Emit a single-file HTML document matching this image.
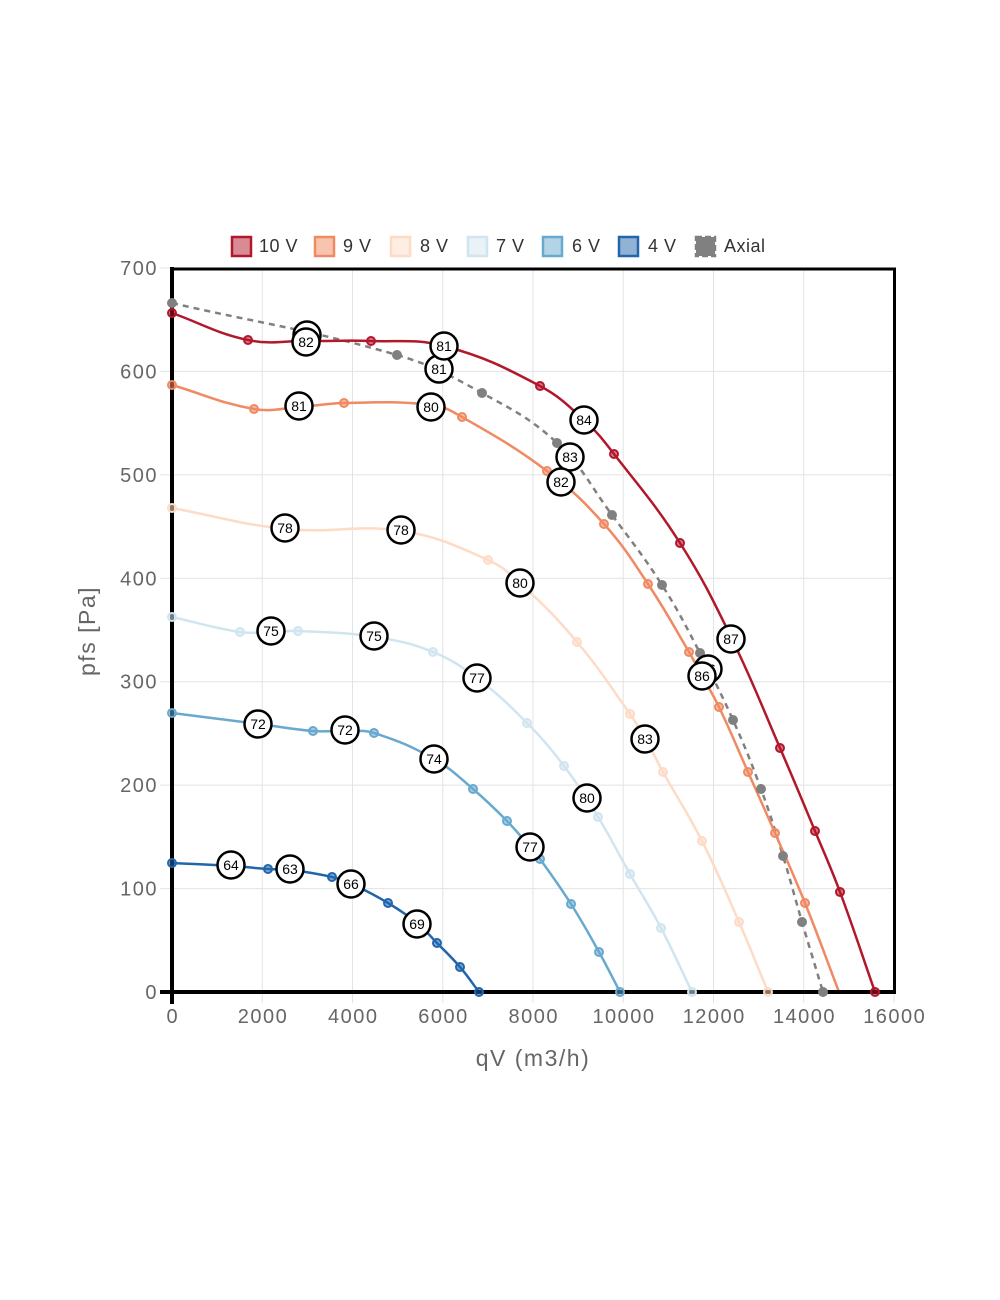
<!DOCTYPE html>
<html><head><meta charset="utf-8"><style>
html,body{margin:0;padding:0;background:#fff;}
svg{display:block;}
.tk{font-family:"Liberation Sans",sans-serif;font-size:20px;fill:#666;letter-spacing:1.5px;}
.lg{font-family:"Liberation Sans",sans-serif;font-size:18px;fill:#333;letter-spacing:0.5px;}
.lb{font-family:"Liberation Sans",sans-serif;font-size:14px;fill:#000;}
.ttl{font-family:"Liberation Sans",sans-serif;font-size:23px;fill:#666;letter-spacing:1.5px;}
</style></head><body>
<svg id="c" width="1000" height="1300" viewBox="0 0 1000 1300" xmlns="http://www.w3.org/2000/svg">
<rect width="1000" height="1300" fill="#fff"/>
<g id="grid" stroke="#e3e3e3" stroke-width="1"></g>
<g id="curves"></g>
<g id="axes" stroke="#000" fill="none">
  <line x1="172" y1="269" x2="896" y2="269" stroke-width="3"/>
  <line x1="894.5" y1="268" x2="894.5" y2="993" stroke-width="3"/>
  <line x1="160" y1="992" x2="896" y2="992" stroke-width="4"/>
  <line x1="172" y1="267" x2="172" y2="1004" stroke-width="4"/>
</g>
<g id="markers"></g>
<g id="labels"></g>
<g id="ticks"></g>
<!-- legend -->
<g>
  <rect x="232" y="237" width="19" height="19" fill="rgba(178,24,43,0.5)" stroke="#b2182b" stroke-width="2.5"/>
  <text class="lg" x="259" y="252">10 V</text>
  <rect x="315" y="237" width="19" height="19" fill="rgba(239,138,98,0.5)" stroke="#ef8a62" stroke-width="2.5"/>
  <text class="lg" x="343" y="252">9 V</text>
  <rect x="391" y="237" width="19" height="19" fill="rgba(253,219,199,0.5)" stroke="#fddbc7" stroke-width="2.5"/>
  <text class="lg" x="420" y="252">8 V</text>
  <rect x="468" y="237" width="19" height="19" fill="rgba(209,229,240,0.5)" stroke="#d1e5f0" stroke-width="2.5"/>
  <text class="lg" x="496" y="252">7 V</text>
  <rect x="543" y="237" width="19" height="19" fill="rgba(103,169,207,0.5)" stroke="#67a9cf" stroke-width="2.5"/>
  <text class="lg" x="572" y="252">6 V</text>
  <rect x="619" y="237" width="19" height="19" fill="rgba(33,102,172,0.5)" stroke="#2166ac" stroke-width="2.5"/>
  <text class="lg" x="648" y="252">4 V</text>
  <rect x="696" y="237" width="19" height="19" fill="#808080" stroke="#808080" stroke-width="2.5" stroke-dasharray="6,3"/>
  <text class="lg" x="724" y="252">Axial</text>
</g>
<text class="ttl" x="533" y="1066" text-anchor="middle">qV (m3/h)</text>
<text class="ttl" x="0" y="0" text-anchor="middle" transform="translate(95,631) rotate(-90)">pfs [Pa]</text>
</svg>
<script>
(function(){
var NS="http://www.w3.org/2000/svg";
function el(n,a,p,t){var e=document.createElementNS(NS,n);for(var k in a)e.setAttribute(k,a[k]);if(t!==undefined)e.textContent=t;p.appendChild(e);return e;}
var grid=document.getElementById('grid'),ticks=document.getElementById('ticks');
var i;
for(i=0;i<=8;i++){
  var x=172+90.25*i;
  if(i>0&&i<8) el('line',{x1:x,y1:269,x2:x,y2:992},grid);
  el('line',{x1:x,y1:992,x2:x,y2:1003,stroke:'#e3e3e3'},grid);
  el('text',{'class':'tk',x:x+0.75,y:1023,'text-anchor':'middle'},ticks,String(i*2000));
}
for(i=0;i<=7;i++){
  var y=992-103.43*i;
  if(i>0&&i<7) el('line',{x1:160,y1:y,x2:894,y2:y},grid);
  else el('line',{x1:160,y1:y,x2:172,y2:y},grid);
  el('text',{'class':'tk',x:158,y:y+7,'text-anchor':'end'},ticks,String(i*100));
}
var S=[
 {c:'#808080',dash:'6,5',ax:1,pts:[[172,303,1],[397,355,1],[482,393,1],[557,443,1],[612,515,1],[662,585,1],[700,653,1],[733,720,1],[761,789,1],[783,856,1],[802,922,1],[823,992,1]]},
 {c:'#2166ac',pts:[[172,863,1],[232,866,0],[268,869,1],[291,870,0],[332,877,1],[352,884,0],[388,903,1],[418,924,0],[437,943,1],[460,967,1],[479,992,1]]},
 {c:'#67a9cf',pts:[[172,713,1],[259,724,0],[313,731,1],[346,731,0],[374,733,1],[434,759,0],[473,789,1],[507,821,1],[530,847,0],[540,859,1],[571,904,1],[599,952,1],[620,992,1]]},
 {c:'#d1e5f0',pts:[[172,617,1],[240,632,1],[272,632,0],[298,631,1],[375,637,0],[433,652,1],[478,679,0],[527,723,1],[564,766,1],[598,817,1],[630,874,1],[661,928,1],[692,992,1]]},
 {c:'#fddbc7',pts:[[172,508,1],[286,529,0],[402,531,0],[488,560,1],[521,584,0],[577,642,1],[630,714,1],[646,740,0],[663,772,1],[702,841,1],[739,922,1],[768,992,1]]},
 {c:'#ef8a62',pts:[[172,385,1],[254,409,1],[300,407,0],[344,403,1],[432,405,0],[462,417,1],[547,471,1],[604,524,1],[648,584,1],[689,652,1],[702,676,0],[719,707,1],[748,772,1],[775,833,1],[805,903,1],[839,992,0]]},
 {c:'#b2182b',pts:[[172,313,1],[248,340,1],[306,341,0],[371,341,1],[444,346,0],[540,386,1],[585,421,0],[614,454,1],[680,543,1],[732,639,0],[780,748,1],[815,831,1],[840,892,1],[875,992,1]]}
];
function spline(p,t){
  var n=p.length,cp=[];
  for(var i=0;i<n;i++){
    var a=p[i-1]||p[i],b=p[i],c=p[i+1]||p[i];
    var d01=Math.hypot(b[0]-a[0],b[1]-a[1]),d12=Math.hypot(c[0]-b[0],c[1]-b[1]);
    var s01=d01/(d01+d12)||0,s12=d12/(d01+d12)||0;
    var fa=t*s01,fb=t*s12;
    cp.push({px:b[0]-fa*(c[0]-a[0]),py:b[1]-fa*(c[1]-a[1]),nx:b[0]+fb*(c[0]-a[0]),ny:b[1]+fb*(c[1]-a[1])});
  }
  var d='M'+p[0][0]+','+p[0][1];
  for(i=0;i<n-1;i++){
    d+=' C'+cp[i].nx.toFixed(2)+','+cp[i].ny.toFixed(2)+' '+cp[i+1].px.toFixed(2)+','+cp[i+1].py.toFixed(2)+' '+p[i+1][0]+','+p[i+1][1];
  }
  return d;
}
var cg=document.getElementById('curves'),mg=document.getElementById('markers');
S.forEach(function(s){
  var a={d:spline(s.pts,0.4),fill:'none',stroke:s.c,'stroke-width':2.5,'stroke-linejoin':'round'};
  if(s.dash)a['stroke-dasharray']=s.dash;
  el('path',a,cg);
});
S.forEach(function(s){
  s.pts.forEach(function(q){
    if(!q[2])return;
    if(s.ax) el('circle',{cx:q[0],cy:q[1],r:5,fill:s.c},mg);
    else el('circle',{cx:q[0],cy:q[1],r:4,fill:s.c,'fill-opacity':0.55,stroke:s.c,'stroke-width':2},mg);
  });
});
var L=[
 [307,335,'82'],[708,669,'86'],
 [306,342,'82'],[439,369,'81'],[444,346,'81'],[299,406,'81'],[431,407,'80'],
 [584,420,'84'],[570,457,'83'],[561,482,'82'],[285,528,'78'],[401,530,'78'],
 [520,583,'80'],[731,639,'87'],[702,676,'86'],[271,631,'75'],[374,636,'75'],
 [477,678,'77'],[645,739,'83'],[587,798,'80'],[258,724,'72'],[345,730,'72'],
 [434,759,'74'],[530,847,'77'],[231,865,'64'],[290,869,'63'],[351,884,'66'],[417,924,'69']
];
var lg=document.getElementById('labels');
L.forEach(function(l){
  el('circle',{cx:l[0],cy:l[1],r:13.5,fill:'#fff',stroke:'#000','stroke-width':2.5},lg);
  el('text',{'class':'lb',x:l[0],y:l[1]+5,'text-anchor':'middle'},lg,l[2]);
});
})();
</script>
</body></html>
